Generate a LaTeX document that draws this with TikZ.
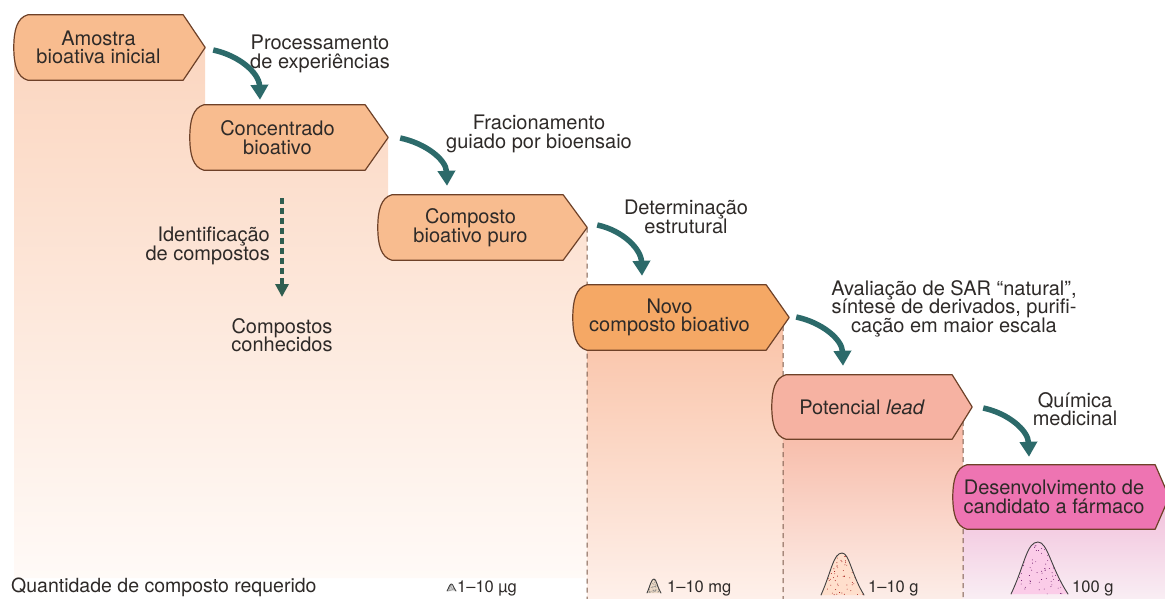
\documentclass[tikz,border=0pt]{standalone}
\usepackage{fontspec}
\setmainfont{TeX Gyre Heros}
\usetikzlibrary{arrows.meta}
\pgfdeclarelayer{cols}
\pgfdeclarelayer{boxes}
\pgfsetlayers{cols,boxes,main}
\definecolor{boxline}{HTML}{6E4128}
\definecolor{boxA}{HTML}{F8BC8F}
\definecolor{boxB}{HTML}{F5A865}
\definecolor{boxC}{HTML}{F6B2A2}
\definecolor{boxD}{HTML}{EE74B2}
\definecolor{arrowteal}{HTML}{2C6A6A}
\definecolor{dashgreen}{HTML}{2F5E50}
\definecolor{txt}{HTML}{2E2A28}
\definecolor{sepcol}{HTML}{7A5A4A}
\definecolor{colAa}{HTML}{FBD6C0}
\definecolor{colAb}{HTML}{FFFAF7}
\definecolor{colBa}{HTML}{F9C2A6}
\definecolor{colBb}{HTML}{FEF0EA}
\definecolor{colCa}{HTML}{F7B5A0}
\definecolor{colCb}{HTML}{FCEDE8}
\definecolor{colDa}{HTML}{F1BEDA}
\definecolor{colDb}{HTML}{F9EEF4}
\newlength{\mytightlim}
\setlength{\mytightlim}{-30pt}
\newcommand{\tightfont}{\fontsize{20}{18.5}\selectfont\lineskiplimit=\mytightlim\relax}
\tikzset{
  boxnode/.style={font=\tightfont, text=txt, align=center, inner sep=0pt},
  labeltext/.style={font=\tightfont, text=txt, align=center, inner sep=0pt},
  amounttext/.style={font=\fontsize{16.5}{17}\selectfont, text=txt, inner sep=0pt, anchor=base west},
  flowarrow/.style={draw=arrowteal, line width=5.5pt, -{Triangle[width=17pt,length=15pt]}},
  dasharrow/.style={draw=dashgreen, line width=4pt, dash pattern=on 6pt off 4pt, -{Triangle[width=13pt,length=13pt]}},
  sepline/.style={draw=sepcol, line width=1pt, dash pattern=on 5pt off 4pt},
  pileline/.style={draw=black!75, line width=0.9pt, line cap=round, line join=round},
}
\newcommand{\tagbox}[3]{%
  \path[draw=boxline, line width=1.2pt, fill=#2, line join=round]
    ([xshift=14pt]#1.north west) -- (#1.north east) -- ([xshift=#3]#1.east) -- (#1.south east) -- ([xshift=14pt]#1.south west)
    .. controls ([xshift=3pt,yshift=3pt]#1.south west) and ([yshift=16pt]#1.south west) .. (#1.west)
    .. controls ([yshift=-16pt]#1.north west) and ([xshift=3pt,yshift=-3pt]#1.north west) .. cycle;}
% pile: x0, x1, xpeak, ypeak, base (all in px, y downwards)
\newcommand{\pilepath}[5]{(#1,-#5) .. controls ({#1+0.24*(#2-#1)},{-#5+0.55*(#5-#4)}) and ({#3-0.2*(#2-#1)},-#4) .. (#3,-#4) .. controls ({#3+0.17*(#2-#1)},-#4) and ({#2-0.3*(#2-#1)},{-#5+0.5*(#5-#4)}) .. (#2,-#5)}
\newcommand{\pile}[7]{%
  \fill[#6] \pilepath{#1}{#2}{#3}{#4}{#5} -- cycle;
  \begin{scope}
    \clip \pilepath{#1}{#2}{#3}{#4}{#5} -- cycle;
    \foreach \k in {1,...,80} \fill[#7] ({#1+rnd*(#2-#1)},{-#5+rnd*(#5-#4)}) circle (0.45pt);
  \end{scope}
  \draw[pileline] \pilepath{#1}{#2}{#3}{#4}{#5};}
\begin{document}
\begin{tikzpicture}[x=1pt,y=1pt]
\pgfmathsetseed{7}
\useasboundingbox (0,0) rectangle (1165,-599);

% boxes (text nodes)
\node[boxnode, minimum width=169pt, minimum height=65pt] (b1) at (98.5,-47.5) {Amostra\\bioativa inicial};
\node[boxnode, minimum width=175pt, minimum height=65pt] (b2) at (277.5,-137.5) {Concentrado\\bioativo};
\node[boxnode, minimum width=185pt, minimum height=65pt] (b3) at (470.5,-227.5) {Composto\\bioativo puro};
\node[boxnode, minimum width=193pt, minimum height=65pt] (b4) at (669.5,-317.5) {Novo\\composto bioativo};
\node[boxnode, minimum width=180pt, minimum height=64pt] (b5) at (862,-407) {Potencial \textit{lead}};
\node[boxnode, minimum width=202pt, minimum height=64pt] (b6) at (1054,-497) {Desenvolvimento de\\candidato a fármaco};

% process labels
\node[labeltext, anchor=north] (tProc) at (320,-35) {Processamento\\de experiências};
\node[labeltext, anchor=north] (tFrac) at (539,-115) {Fracionamento\\guiado por bioensaio};
\node[labeltext, anchor=north] (tDet) at (686,-200) {Determinação\\estrutural};
\node[labeltext, anchor=north] (tAval) at (954,-280) {Avaliação de SAR “natural”,\\síntese de derivados, purifi-\\cação em maior escala};
\node[labeltext, anchor=north] (tQuim) at (1075,-392) {Química\\medicinal};
\node[labeltext, anchor=north east, align=right] (tIdent) at (270,-227) {Identificação\\de compostos};
\node[labeltext, anchor=north] (tConh) at (282,-318) {Compostos\\conhecidos};

% bottom scale
\node[anchor=base west, font=\fontsize{19.5}{19.5}\selectfont, text=txt, inner sep=0pt] (qlabel) at (11,-592) {Quantidade de composto requerido};
\node[amounttext] (m1) at (457,-592) {1–10 µg};
\node[amounttext] (m2) at (667,-592) {1–10 mg};
\node[amounttext] (m3) at (868,-592) {1–10 g};
\node[amounttext] (m4) at (1072,-592) {100 g};

\coordinate (e1) at (587,-599);
\coordinate (e2) at (783,-599);
\coordinate (e3) at (963,-599);

\begin{pgfonlayer}{cols}
  \shade[top color=colAa, bottom color=colAb] (14,-47) -- (205,-47) -- (205,-137) -- (388,-137) -- (388,-228) -- (587,-228) -- (587,-578) -- (14,-578) -- cycle;
  \shade[top color=colBa, bottom color=colBb] (587,-317) rectangle (783,-599);
  \shade[top color=colCa, bottom color=colCb] (783,-407) rectangle (963,-599);
  \shade[top color=colDa, bottom color=colDb] (963,-497) rectangle (1165,-599);
  \draw[sepline] ([xshift=24pt]b3.east) -- (e1);
  \draw[sepline] ([xshift=17pt,yshift=-8.5pt]b4.east) -- (e2);
  \draw[sepline] ([xshift=11pt,yshift=-14pt]b5.east) -- (e3);
\end{pgfonlayer}

\begin{pgfonlayer}{boxes}
  \tagbox{b1}{boxA}{22pt}
  \tagbox{b2}{boxA}{23pt}
  \tagbox{b3}{boxA}{24pt}
  \tagbox{b4}{boxB}{23pt}
  \tagbox{b5}{boxC}{20pt}
  \tagbox{b6}{boxD}{14pt}
\end{pgfonlayer}

% connectors
\draw[flowarrow] ([xshift=30pt,yshift=-2.5pt]b1.east) to[out=-12,in=92] ([xshift=-17.5pt,yshift=5pt]b2.north);
\draw[flowarrow] ([xshift=35pt,yshift=-0.5pt]b2.east) to[out=-12,in=92] ([xshift=-23.5pt,yshift=9pt]b3.north);
\draw[flowarrow] ([xshift=34pt,yshift=2.5pt]b3.east) to[out=-12,in=92] ([xshift=-27.5pt,yshift=9pt]b4.north);
\draw[flowarrow] ([xshift=30pt,yshift=0.5pt]b4.east) to[out=-12,in=92] ([xshift=-19pt,yshift=9pt]b5.north);
\draw[flowarrow] ([xshift=31pt,yshift=-1pt]b5.east) to[out=-12,in=92] ([xshift=-25pt,yshift=8pt]b6.north);
\draw[dasharrow] ([xshift=4.5pt,yshift=-28pt]b2.south) -- ([yshift=21pt]tConh.north);

% piles
\pile{447}{456}{451.5}{584}{591}{black!8}{black!40}
\pile{647}{661}{654}{579}{593}{brown!30!white}{black!50}
\pile{821}{864}{842}{553}{595}{red!25!orange!20!white}{red!60!black}
\pile{1011}{1068}{1038}{542}{594}{magenta!20!white}{violet!70!black}
\end{tikzpicture}
\end{document}
